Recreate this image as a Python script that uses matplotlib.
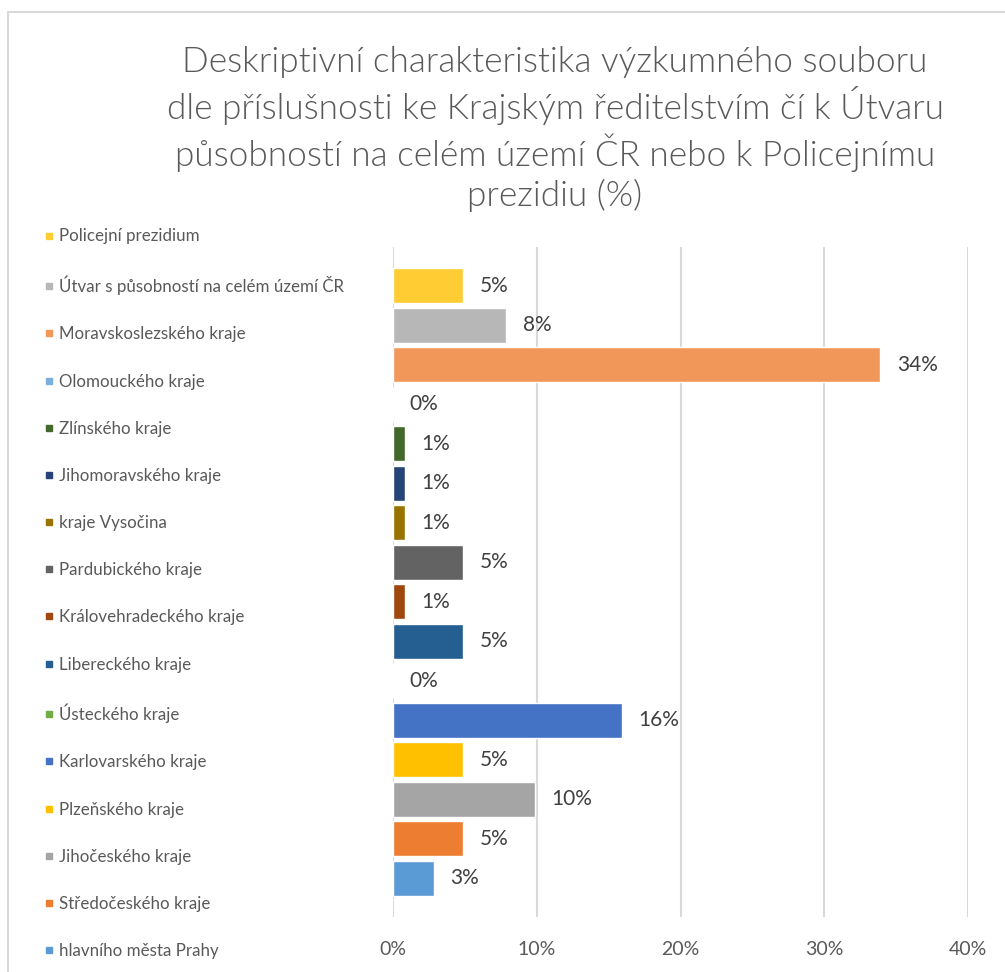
import matplotlib
matplotlib.use("Agg")
from matplotlib import pyplot as plt
from matplotlib.lines import Line2D

# categories from bottom bar to top bar
regions = [
    "hlavního města Prahy",
    "Středočeského kraje",
    "Jihočeského kraje",
    "Plzeňského kraje",
    "Karlovarského kraje",
    "Ústeckého kraje",
    "Libereckého kraje",
    "Královehradeckého kraje",
    "Pardubického kraje",
    "kraje Vysočina",
    "Jihomoravského kraje",
    "Zlínského kraje",
    "Olomouckého kraje",
    "Moravskoslezského kraje",
    "Útvar s působností na celém území ČR",
    "Policejní prezidium",
]
shares = [2.85, 4.85, 9.85, 4.85, 15.9, 0.0, 4.85, 0.8, 4.85, 0.8, 0.8, 0.8, 0.0, 33.9, 7.85, 4.85]
colors = [
    "#5B9BD5", "#ED7D31", "#A5A5A5", "#FFC000", "#4472C4", "#70AD47",
    "#255E91", "#9E480E", "#636363", "#997300", "#264478", "#43682B",
    "#7CAFDD", "#F1975A", "#B7B7B7", "#FFCD33",
]
xticks = [0, 10, 20, 30, 40]

title = ("Deskriptivní charakteristika výzkumného souboru\n"
         "dle příslušnosti ke Krajským ředitelstvím čí k Útvaru\n"
         "působností na celém území ČR nebo k Policejnímu\n"
         "prezidiu (%)")

plt.rcParams["font.family"] = ["Lato", "DejaVu Sans"]

W, H = 1005, 972
fig = plt.figure(figsize=(W / 100, H / 100), dpi=100)

# plot area (pixel coords)
left, right, top, bottom = 393, 968, 247, 917
ax = fig.add_axes([left / W, 1 - bottom / H, (right - left) / W, (bottom - top) / H])

pos = list(range(len(regions)))
bars = ax.barh(pos, shares, height=0.89, color=colors, edgecolor="white", linewidth=1, zorder=3)
ax.bar_label(bars, labels=[f"{v:.0f}%" for v in shares], padding=12,
             fontsize=15, color="#404040")

ax.set_xlim(0, 40)
ax.set_ylim(-0.98, len(regions) - 1 + 0.98)
ax.set_xticks(xticks)
ax.set_xticklabels([f"{t}%" for t in xticks], fontsize=14, color="#595959")
ax.set_yticks([])
ax.tick_params(axis="x", length=0, pad=17)
ax.grid(axis="x", color="#D9D9D9", linewidth=1.5, zorder=0)
for s in ax.spines.values():
    s.set_visible(False)

# legend on the left, top entry = last category
handles = [Line2D([], [], marker="s", linestyle="none", markersize=4.5,
                  markerfacecolor=c, markeredgecolor=c) for c in colors[::-1]]
fig.legend(handles, regions[::-1], loc="upper left",
           bbox_to_anchor=(35 / W, 1 - 220 / H), frameon=False,
           fontsize=12.2, labelcolor="#595959", handlelength=0.6,
           handletextpad=0.3, labelspacing=1.84, borderpad=0)

fig.text(555 / W, 1 - 129 / H, title, ha="center", va="center",
         fontsize=25.3, fontweight=300, color="#595959", linespacing=1.25)

# chart border
fig.add_artist(Line2D([8 / W, 8 / W, 1], [0, 1 - 12 / H, 1 - 12 / H],
                      transform=fig.transFigure, color="#D9D9D9", linewidth=1.5))

fig.savefig("out.png", dpi=100)
